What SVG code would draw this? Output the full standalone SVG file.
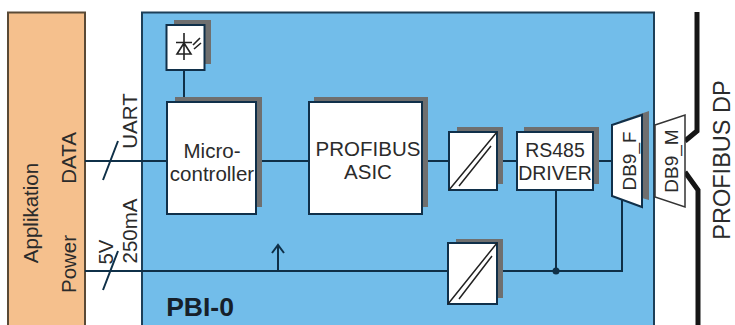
<svg xmlns="http://www.w3.org/2000/svg" width="735" height="325" viewBox="0 0 735 325">
<style>
text{font-family:"Liberation Sans",Arial,sans-serif;fill:#2b2b2b;text-anchor:middle}
.box{fill:#fff;stroke:#10304a;stroke-width:2}
.sh{fill:#6f6f6f}
.ln{fill:none;stroke:#0f3048;stroke-width:2}
.t20{font-size:20.500px}
.t19{font-size:19.500px}
.t18{font-size:19px}
</style>
<rect width="735" height="325" fill="#fff"/>
<g id="applikation">
<rect x="8" y="12.500" width="77" height="330" fill="#f5c08d" stroke="#5a4a36" stroke-width="2"/>
<text class="t20" transform="translate(38 213) rotate(-90)">Applikation</text>
<text class="t20" transform="translate(76 158) rotate(-90)">DATA</text>
<text class="t20" transform="translate(76 264) rotate(-90)">Power</text>
</g>
<g id="pbi0">
<rect x="142" y="12.500" width="512" height="330" fill="#72bdea" stroke="#1d3f58" stroke-width="2"/>
<text transform="translate(200 316)" style="font-size:26.500px;font-weight:700;fill:#16202a">PBI-0</text>
</g>
<g id="connectors">
<path class="ln" d="M85 161H167M256 161H309M422 161H449M497 161H517M593 161H612"/>
<path class="ln" d="M85 271H448M497 271H622V196M556 190V271M184 70V102"/>
<path class="ln" d="M103 180L118 141M103 290L118 251"/>
<path class="ln" d="M278 270V246M272 253L278 245L284 253"/>
<circle cx="556" cy="271" r="3.500" fill="#0f3048"/>
<path d="M697 12V131L685 141M685 172L698 190V325" fill="none" stroke="#161616" stroke-width="5"/>
</g>
<g id="labels-bus">
<text class="t20" transform="translate(137 121) rotate(-90)">UART</text>
<text class="t20" transform="translate(113 252) rotate(-90)">5V</text>
<text class="t20" transform="translate(137 231) rotate(-90)">250mA</text>
<text style="font-size:23.500px" transform="translate(730 160) rotate(-90)">PROFIBUS DP</text>
</g>
<g id="photodiode">
<rect class="sh" x="174" y="20" width="37" height="44"/>
<rect class="box" x="166.500" y="25" width="38" height="45"/>
<path d="M184 33V60M176 42.500H192M184 43L177 54H191Z M193 45L200 38M194 49L201 43" fill="none" stroke="#222" stroke-width="1.600"/>
</g>
<g id="microcontroller">
<rect class="sh" x="175" y="97" width="87" height="110"/>
<rect class="box" x="167" y="102" width="89" height="112"/>
<text class="t20" x="212" y="158">Micro-</text>
<text class="t20" x="212" y="181">controller</text>
</g>
<g id="asic">
<rect class="sh" x="314" y="97" width="114" height="110"/>
<rect class="box" x="309" y="102" width="113" height="112"/>
<text class="t20" x="368" y="156">PROFIBUS</text>
<text class="t20" x="368" y="179">ASIC</text>
</g>
<g id="dcdc1">
<rect class="sh" x="457" y="127" width="46" height="57"/>
<rect class="box" x="449" y="132" width="48" height="58"/>
<path d="M449 190L497 132M459 186L491 146" fill="none" stroke="#222" stroke-width="1.500"/>
</g>
<g id="rs485">
<rect class="sh" x="524" y="127" width="75" height="57"/>
<rect class="box" x="517" y="132" width="76" height="58"/>
<text class="t19" x="555" y="157">RS485</text>
<text class="t19" x="555" y="180">DRIVER</text>
</g>
<g id="db9f">
<polygon class="sh" points="620,121 649,111 649,200 620,192"/>
<polygon class="box" points="612,125 642,115 642,207 612,196"/>
<text class="t18" transform="translate(636 161) rotate(-90)">DB9_F</text>
</g>
<g id="db9m">
<polygon points="655,125 685,115 685,207 655,197" fill="#fff" stroke="#333" stroke-width="1.500"/>
<text class="t18" transform="translate(678 161) rotate(-90)">DB9_M</text>
</g>
<g id="dcdc2">
<rect class="sh" x="456" y="239" width="47" height="59"/>
<rect class="box" x="448" y="243" width="49" height="61"/>
<path d="M448 304L497 243M459 299L492 256" fill="none" stroke="#222" stroke-width="1.500"/>
</g>
</svg>
